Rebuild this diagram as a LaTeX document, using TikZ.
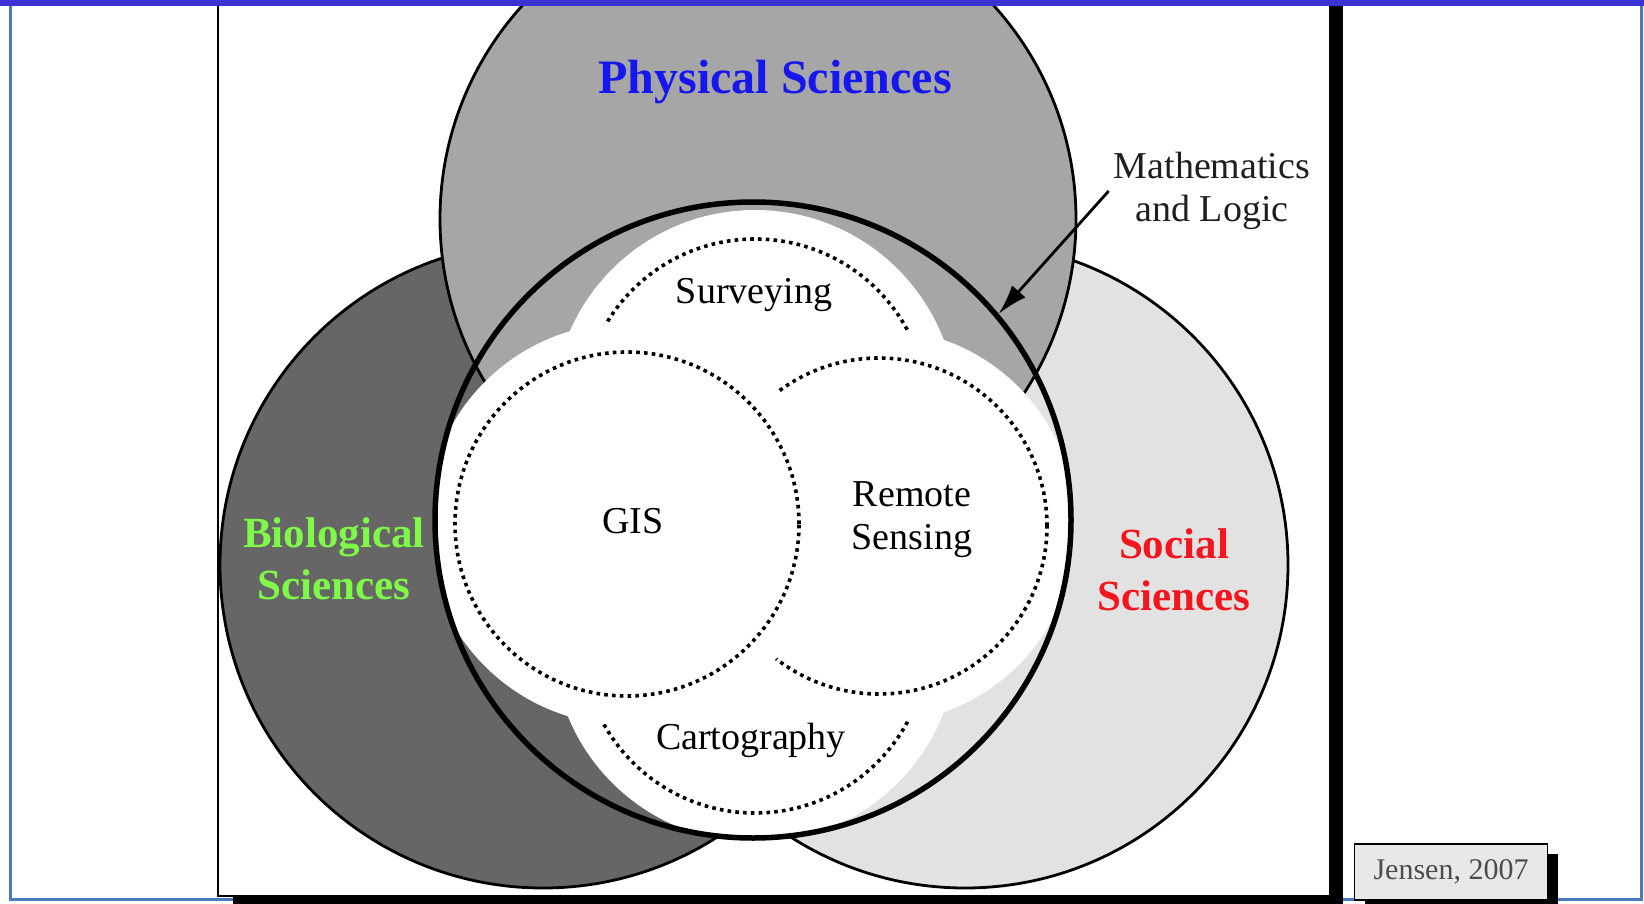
\documentclass[tikz,border=0pt]{standalone}
\usepackage{fontspec}
\setmainfont{Liberation Serif}
\usetikzlibrary{arrows.meta,shadows}

\definecolor{barblue}{RGB}{58,50,212}
\definecolor{rimblue}{RGB}{74,122,190}
\definecolor{physgray}{RGB}{166,166,166}
\definecolor{biogray}{RGB}{102,102,102}
\definecolor{socgray}{RGB}{226,226,226}
\definecolor{physblue}{RGB}{22,22,238}
\definecolor{biogreen}{RGB}{128,250,72}
\definecolor{socred}{RGB}{244,22,30}
\definecolor{notegray}{RGB}{232,232,232}

\begin{document}
\begin{tikzpicture}[x=1pt, y=-1pt,
  every node/.style={font=\fontsize{38}{43}\selectfont, align=center, inner sep=0pt},
  field/.style={circle, draw, line width=2.8pt, inner sep=0pt},
  fieldlabel/.style={font=\fontsize{43}{52}\selectfont\bfseries},
  core/.style={circle, draw, line width=5.5pt, inner sep=0pt},
  petal/.style={fill=white},
  ring/.style={draw, line width=3.6pt, dash pattern=on 3.6pt off 4.2pt},
  pointer/.style={-{Latex[length=30pt, width=18pt]}, line width=2.8pt},
  credit/.style={draw, line width=1.8pt, fill=notegray, text=black!70,
    font=\fontsize{30}{34}\selectfont, minimum width=193pt, minimum height=56pt,
    drop shadow={shadow xshift=10pt, shadow yshift=-10pt, fill=black, opacity=1}}
]
\useasboundingbox (0,0) rectangle (1644,904);
% slide frame
\draw[rimblue, line width=3pt] (10,6) -- (10,899) -- (1641,899) -- (1641,6);
\fill[black] (233,0) rectangle (1343,904);
\draw[fill=white, line width=1.8pt] (218,-2) rectangle (1330,896);

\coordinate (survey) at (755,412);
\coordinate (carto) at (755,640);
\coordinate (rs) at (879,526);
\coordinate (gis) at (627,524);

\begin{scope}
  \clip (219,6) rectangle (1329,895);
  \node[field, fill=biogray, minimum size=646pt] (bio) at (543,565) {};
  \node[field, fill=socgray, minimum size=646pt] (social) at (965,565) {};
  \node[field, fill=physgray, minimum size=636pt] (phys) at (758,219) {};
  % white petals inside the core circle
  \begin{scope}
    \clip (753,520) circle[radius=318pt];
    \fill[petal] (survey) circle[radius=202pt];
    \draw[ring] (survey) circle[radius=173pt];
    \fill[petal] (carto) circle[radius=202pt];
    \draw[ring] (carto) circle[radius=173pt];
    \fill[petal] (rs) circle[radius=197pt];
    \draw[ring] (rs) circle[radius=168pt];
    \fill[petal] (gis) circle[radius=201pt];
    \draw[ring] (gis) circle[radius=172pt];
  \end{scope}
  \node[core, minimum size=636pt] (core) at (753,520) {};
\end{scope}
\fill[barblue] (0,0) rectangle (1644,6);

\node[fieldlabel, font=\fontsize{48}{52}\selectfont\bfseries, text=physblue] (physlbl) at (775,82) {Physical Sciences};
\node[fieldlabel, text=biogreen] (biolbl) at (334,559) {Biological\\Sciences};
\node[fieldlabel, text=socred] (soclbl) at (1174,570) {Social\\Sciences};

\node (surveylbl) at (754,295) {Surveying};
\node (gislbl) at (633,521) {GIS};
\node (rslbl) at (912,520) {Remote\\Sensing};
\node (cartolbl) at (751,740) {Cartography};
\node[text=black!88, inner sep=5pt] (math) at (1212,191) {Mathematics\\and Logic};
\draw[pointer] (math.west) -- (core.40);

\node[credit] (cite) at (1451,872) {Jensen, 2007};
\end{tikzpicture}
\end{document}
